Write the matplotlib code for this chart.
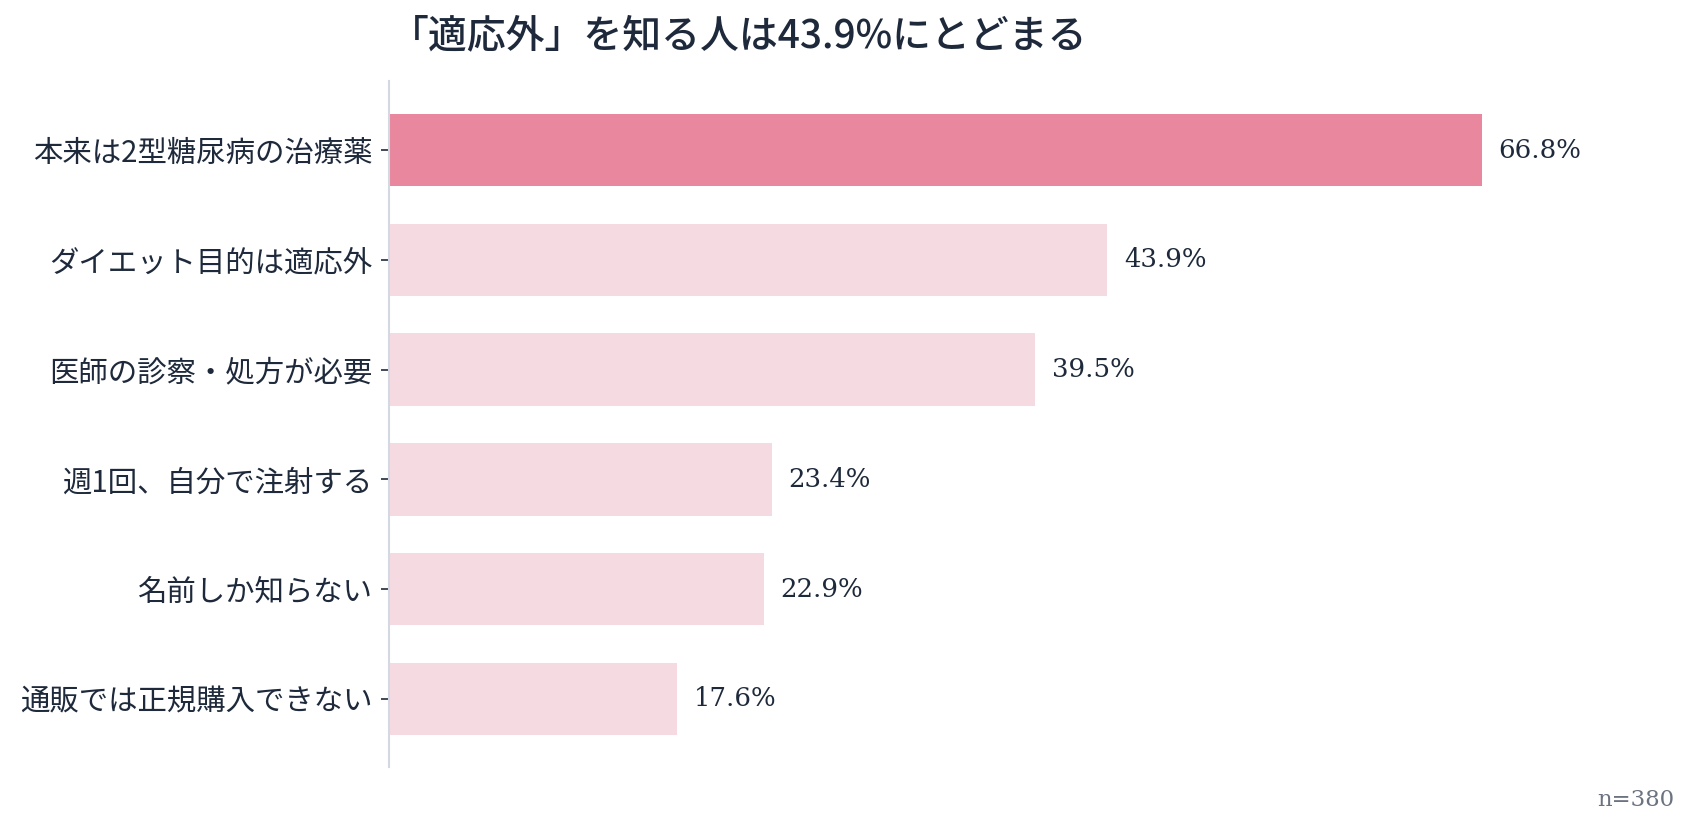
import matplotlib
matplotlib.use("Agg")
import matplotlib.pyplot as plt

categories = [
    "本来は2型糖尿病の治療薬",
    "ダイエット目的は適応外",
    "医師の診察・処方が必要",
    "週1回、自分で注射する",
    "名前しか知らない",
    "通販では正規購入できない",
]
values = [66.8, 43.9, 39.5, 23.4, 22.9, 17.6]
highlight = [True, False, False, False, False, False]
title = "「適応外」を知る人は43.9%にとどまる"
note = "n=380"

plt.rcParams['font.family'] = ['Noto Sans CJK JP', 'DejaVu Sans']
TEXT = "#1e2a3b"
PINK = "#e8879e"
LIGHT = "#f6dae1"

fig = plt.figure(figsize=(16.99, 8.33), dpi=100)
W, H = 1699, 833
ax_left, ax_right = 389 / W, 1674 / W
ax_top, ax_bottom = 81 / H, 767 / H
ax = fig.add_axes([ax_left, 1 - ax_bottom, ax_right - ax_left, ax_bottom - ax_top])

y = list(range(len(categories)))
colors = [PINK if h else LIGHT for h in highlight]
ax.barh(y, values, height=0.66, color=colors, zorder=2)
ax.set_yticks(y)
ax.set_yticklabels(categories, fontsize=21.2, color=TEXT)
ax.set_ylim(len(categories) - 0.38, -0.63)
ax.set_xlim(0, 78.55)
ax.set_xticks([])
for s in ["top", "right", "bottom"]:
    ax.spines[s].set_visible(False)
ax.spines["left"].set_color("#d3d8e2")
ax.spines["left"].set_linewidth(1.5)
ax.tick_params(axis="y", length=6, width=1.2, color=TEXT, pad=6)

for yi, v in zip(y, values):
    ax.annotate(f"{v:.1f}%", (v, yi), xytext=(12, 0), textcoords="offset points",
                va="center", ha="left", fontsize=18.7, color=TEXT,
                family=["DejaVu Serif"])

fig.text(390 / W, 1 - 36 / H, title, fontsize=28, color=TEXT,
         ha="left", va="center", fontweight="medium")
fig.text(1674 / W, 1 - 800 / H, note, fontsize=16.4, color="#6b7280",
         ha="right", va="center", family=["DejaVu Serif"])

fig.savefig("out.png", dpi=100)
